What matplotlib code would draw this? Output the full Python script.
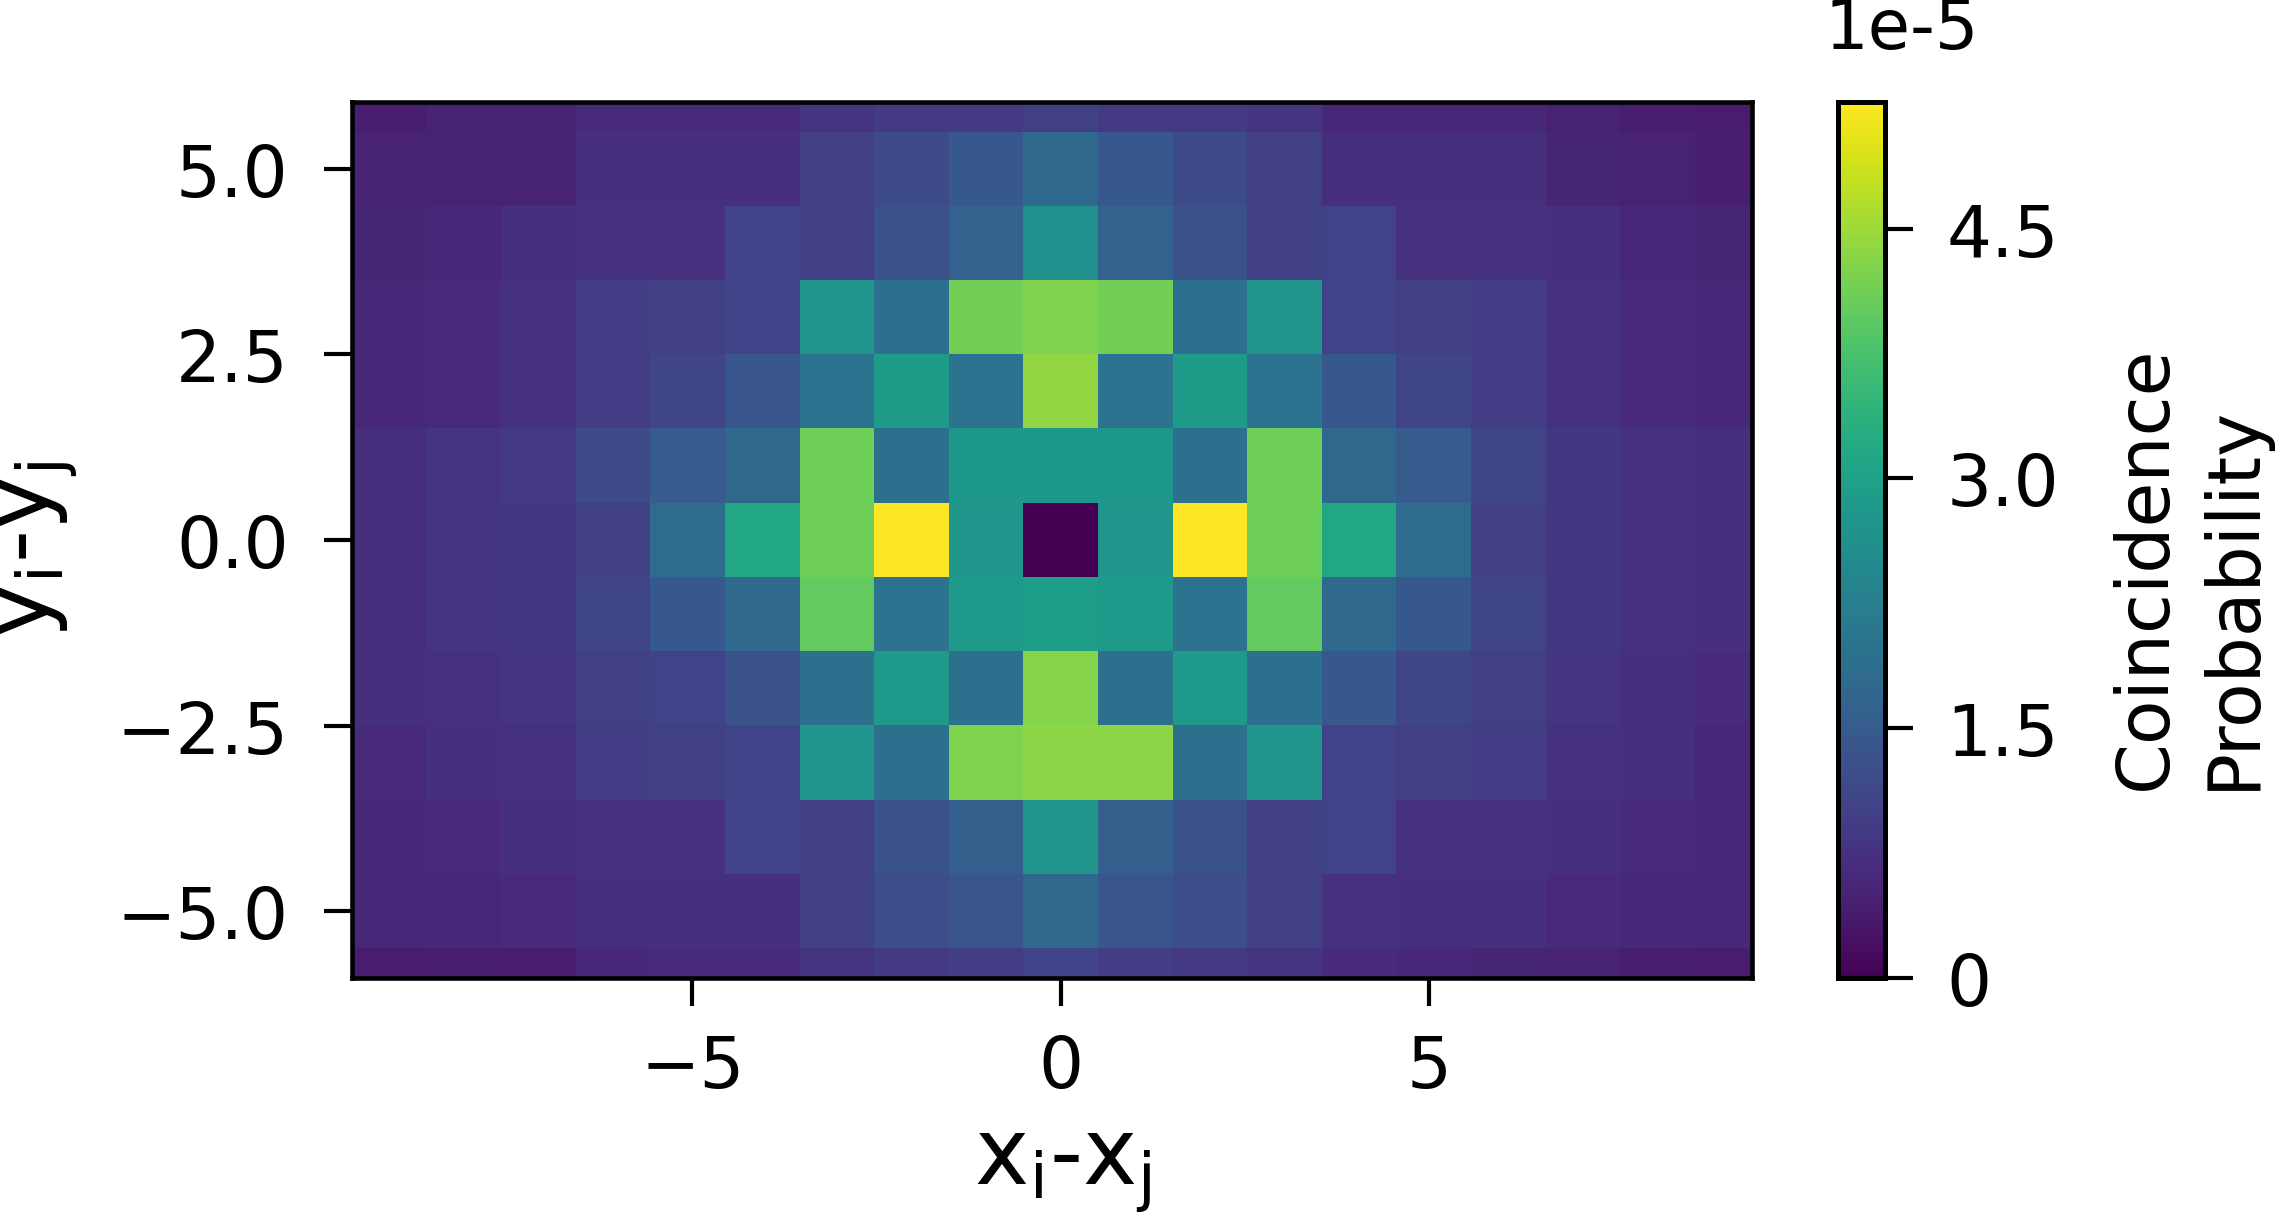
import matplotlib
matplotlib.use('Agg')
import matplotlib.pyplot as plt
import numpy as np

# relative positions x_i - x_j (columns) and y_i - y_j (rows, top to bottom)
dx = np.arange(-9, 10)
dy = np.arange(6, -7, -1)

# coincidence probability, in units of 1e-5, one list per y_i - y_j row
p_y6 = [0.45, 0.5, 0.5, 0.65, 0.65, 0.65, 0.8, 0.9, 0.9, 1.0, 0.9, 0.9, 0.8, 0.6, 0.6, 0.6, 0.5, 0.45, 0.4]
p_y5 = [0.5, 0.5, 0.5, 0.7, 0.7, 0.7, 1.0, 1.2, 1.45, 1.8, 1.45, 1.2, 1.0, 0.7, 0.7, 0.7, 0.55, 0.5, 0.45]
p_y4 = [0.55, 0.6, 0.7, 0.75, 0.75, 1.05, 1.0, 1.3, 1.65, 2.65, 1.65, 1.3, 1.0, 1.05, 0.75, 0.75, 0.7, 0.6, 0.55]
p_y3 = [0.6, 0.65, 0.75, 0.95, 1.0, 1.05, 2.75, 1.95, 4.15, 4.25, 4.15, 1.95, 2.75, 1.05, 1.0, 0.95, 0.75, 0.65, 0.6]
p_y2 = [0.6, 0.65, 0.75, 0.95, 1.1, 1.4, 2.0, 2.9, 2.0, 4.4, 2.0, 2.9, 2.0, 1.45, 1.1, 0.95, 0.75, 0.65, 0.6]
p_y1 = [0.7, 0.8, 0.9, 1.2, 1.5, 1.75, 4.1, 1.95, 2.8, 2.8, 2.8, 1.95, 4.1, 1.75, 1.5, 1.1, 0.85, 0.75, 0.7]
p_y0 = [0.7, 0.8, 0.85, 1.0, 1.85, 3.15, 4.1, 5.26, 2.75, 0.0, 2.75, 5.26, 4.1, 3.15, 1.85, 1.0, 0.85, 0.75, 0.7]
p_ym1 = [0.7, 0.8, 0.85, 1.1, 1.45, 1.8, 4.0, 2.0, 2.85, 2.95, 2.85, 2.0, 4.0, 1.8, 1.45, 1.1, 0.85, 0.75, 0.7]
p_ym2 = [0.7, 0.75, 0.8, 1.0, 1.05, 1.3, 1.95, 2.85, 1.95, 4.3, 1.95, 2.85, 1.95, 1.45, 1.1, 1.0, 0.8, 0.7, 0.65]
p_ym3 = [0.65, 0.7, 0.75, 0.95, 1.0, 1.05, 2.75, 1.95, 4.25, 4.35, 4.35, 1.95, 2.75, 1.05, 1.0, 0.95, 0.75, 0.7, 0.6]
p_ym4 = [0.6, 0.65, 0.7, 0.75, 0.75, 1.05, 1.0, 1.3, 1.6, 2.75, 1.6, 1.3, 1.0, 1.05, 0.75, 0.75, 0.7, 0.65, 0.6]
p_ym5 = [0.6, 0.6, 0.65, 0.7, 0.7, 0.7, 1.0, 1.25, 1.4, 1.75, 1.4, 1.25, 1.0, 0.75, 0.7, 0.7, 0.65, 0.6, 0.6]
p_ym6 = [0.4, 0.45, 0.4, 0.6, 0.65, 0.65, 0.8, 0.9, 0.95, 1.05, 0.95, 0.9, 0.8, 0.65, 0.6, 0.55, 0.5, 0.45, 0.4]

cbar_ticks = [0, 1.5, 3.0, 4.5]
cbar_ticklabels = ['0', '1.5', '3.0', '4.5']
scale = 1e-5

prob = np.array([p_y6, p_y5, p_y4, p_y3, p_y2, p_y1, p_y0,
                 p_ym1, p_ym2, p_ym3, p_ym4, p_ym5, p_ym6]) * scale

plt.rcParams['font.family'] = 'DejaVu Sans'
plt.rcParams['mathtext.default'] = 'regular'

W, H, DPI = 2285, 1218, 300
fig = plt.figure(figsize=(W / DPI, H / DPI), dpi=DPI)

# axes boxes measured in pixels of the target picture
ax = fig.add_axes([352 / W, 1 - 979 / H, 1400 / W, 876 / H])
cax = fig.add_axes([1838 / W, 1 - 979 / H, 47 / W, 876 / H])

# the picture's x range is slightly off-centre; cells widened a touch to fill it
half_w = 9.62
im = ax.imshow(prob, cmap='viridis', vmin=0, vmax=prob.max(), aspect='auto',
               interpolation='nearest', origin='upper',
               extent=[-half_w, half_w, dy[-1] - 0.5, dy[0] + 0.5])
ax.set_xlim(-half_w, 9.38)
ax.set_ylim(-5.9, 5.9)
ax.set_xticks([-5, 0, 5])
ax.set_yticks([-5, -2.5, 0, 2.5, 5])

for s in ax.spines.values():
    s.set_linewidth(1.1)
ax.tick_params(axis='both', labelsize=17, length=6.7, width=1.0)
ax.tick_params(axis='x', pad=6.5)
ax.tick_params(axis='y', pad=8.5)

ax.set_xlabel('x$_i$-x$_j$', fontsize=22)
ax.set_ylabel('y$_i$-y$_j$', fontsize=22)
ax.xaxis.set_label_coords(0.508, -0.165)
ax.yaxis.set_label_coords(-0.195, 0.49)

cbar = fig.colorbar(im, cax=cax, ticks=[t * scale for t in cbar_ticks])
cbar.ax.set_yticklabels(cbar_ticklabels)
cbar.ax.tick_params(labelsize=17, length=6.7, width=1.0, pad=8)
cbar.outline.set_linewidth(1.2)

fig.text(1825 / W, 1 - 49 / H, '1e-5', fontsize=16.5, ha='left', va='baseline')
fig.text(2110 / W, 1 - 790 / H, 'Coincidence\nProbability', fontsize=17.5,
         rotation=90, ha='left', va='bottom', multialignment='left',
         linespacing=1.3)

fig.savefig('out.png', dpi=DPI)
